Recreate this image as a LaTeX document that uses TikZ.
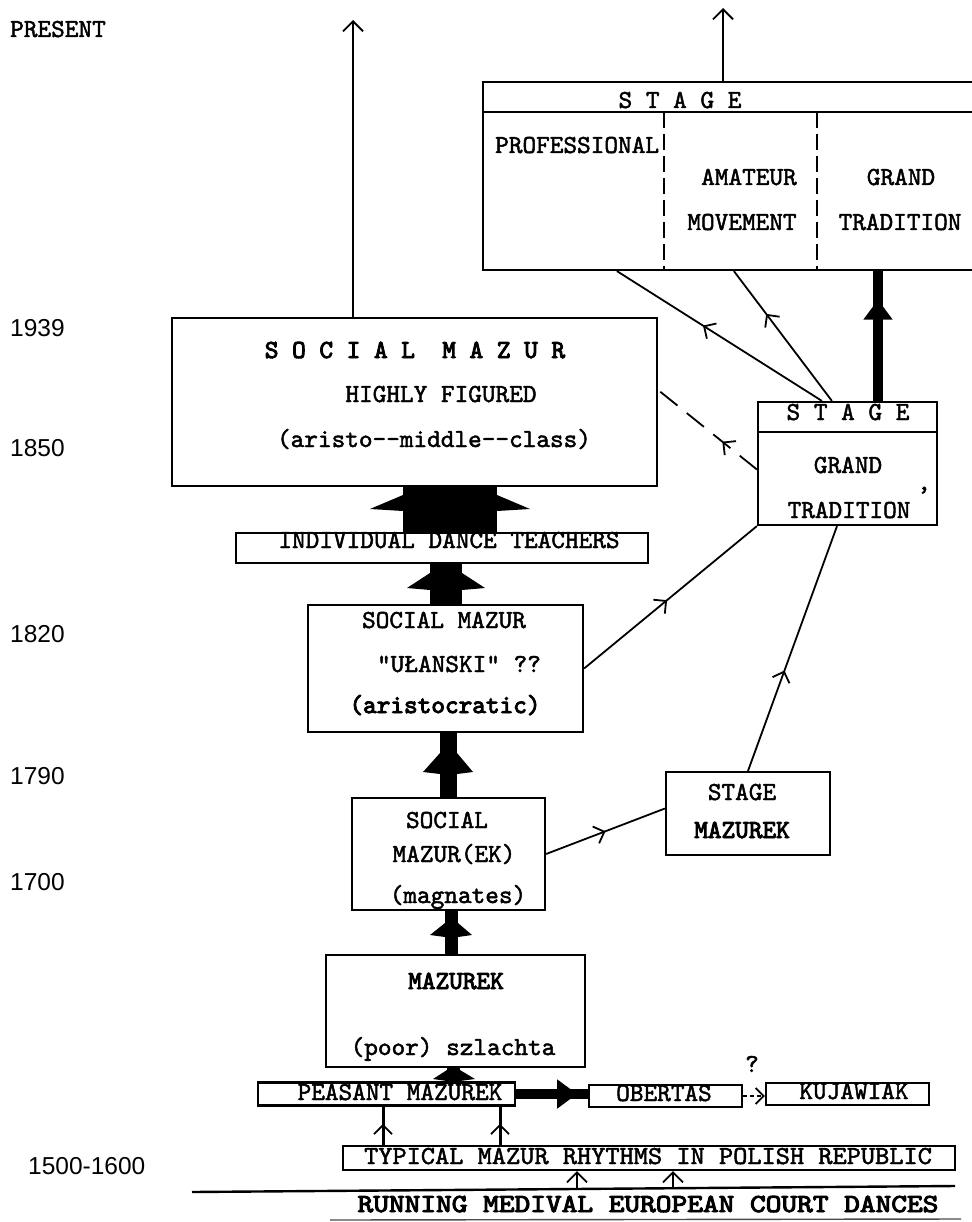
\documentclass[tikz,border=0pt]{standalone}
\usepackage{fontspec}
\newfontfamily\tw{lmmono10-regular}[Extension=.otf,FakeBold=1.8]
\newfontfamily\twb{lmmono10-regular}[Extension=.otf,FakeBold=3.6]
\newfontfamily\yr{Liberation Sans}
\usetikzlibrary{arrows.meta,decorations.markings,calc}
\tikzset{
 box/.style={draw, line width=2.2pt, inner sep=0pt, rectangle},
 tt/.style={font=\tw\fontsize{26}{30}\selectfont, anchor=base, inner sep=0pt},
 ttb/.style={font=\twb\fontsize{26}{30}\selectfont, anchor=base, inner sep=0pt},
 yrs/.style={font=\yr\fontsize{24.5}{28}\selectfont, anchor=base west, inner sep=0pt},
 thinline/.style={line width=1.8pt},
 uparr/.style={thinline, -{Straight Barb[length=10pt,width=20pt,line width=1.8pt]}},
 midarr/.style={thinline, postaction={decorate}, decoration={markings, mark=at position #1 with {\arrow{Straight Barb[length=9pt,width=18pt,line width=1.8pt]}}}},
 thickmid/.style={line width=10pt, postaction={decorate}, decoration={markings, mark=at position #1 with {\arrow{Triangle[length=20pt,width=28pt]}}}},
 divider/.style={line width=2pt, dash pattern=on 16pt off 6pt},
}
\newcommand\blockup[8]{%
 \fill (#1.north -| #3,0) rectangle (#2.south -| #4,0);
 \fill (#3,#7) -- (#5,#8) -- (#3,#8+2) -- cycle;
 \fill (#4,#7) -- (#6,#8) -- (#4,#8+2) -- cycle;
}
\begin{document}
\begin{tikzpicture}[x=1pt,y=-1pt]
\useasboundingbox (0,0) rectangle (971,1222);
\fill[white] (0,0) rectangle (971,1222);
% ---------- boxes
\node[box, minimum width=492pt, minimum height=188pt] (st) at (729,176) {};
\node[box, minimum width=179pt, minimum height=123pt] (gt) at (847.5,463.5) {};
\node[box, minimum width=485pt, minimum height=168pt] (sm) at (414.5,402) {};
\node[box, minimum width=412pt, minimum height=30pt] (idt) at (442,548) {};
\node[box, minimum width=275pt, minimum height=127pt] (ul) at (445.5,668.5) {};
\node[box, minimum width=193pt, minimum height=112pt] (ek) at (448.5,854) {};
\node[box, minimum width=164pt, minimum height=83pt] (smk) at (748,813.5) {};
\node[box, minimum width=259pt, minimum height=112pt] (mz) at (455.5,1011) {};
\node[box, minimum width=257pt, minimum height=23pt] (pm) at (386.5,1094) {};
\node[box, minimum width=153pt, minimum height=22pt] (ob) at (665.5,1096) {};
\node[box, minimum width=163pt, minimum height=22pt] (kj) at (847.5,1094) {};
\node[box, minimum width=612pt, minimum height=24pt] (ty) at (649,1158) {};
% header rows and dividers
\draw[line width=2.2pt] ([yshift=-31pt]st.north west) -- ([yshift=-31pt]st.north east);
\draw[line width=2.2pt] ([yshift=-31pt]gt.north west) -- ([yshift=-31pt]gt.north east);
\draw[divider] ([xshift=182pt,yshift=-31pt]st.north west) -- ([xshift=182pt]st.south west);
\draw[divider] ([xshift=335pt,yshift=-31pt]st.north west) -- ([xshift=335pt]st.south west);
% ---------- texts
\node[tt, anchor=base west] at (10,37) {PRESENT};
\node[tt] at (680,108) {S~T~A~G~E};
\node[tt, anchor=base west] at (495,153) {PROFESSIONAL};
\node[tt] at (749,185) {AMATEUR};
\node[tt] at (742,230) {MOVEMENT};
\node[tt] at (901,185) {GRAND};
\node[tt] at (900,230) {TRADITION};
\node[ttb] at (415,358) {S~O~C~I~A~L~~M~A~Z~U~R};
\node[tt] at (441,402) {HIGHLY FIGURED};
\node[tt] at (434,447) {(aristo-{}-middle-{}-class)};
\node[tt] at (449,548) {INDIVIDUAL DANCE TEACHERS};
\node[tt] at (444,628) {SOCIAL MAZUR};
\node[tt] at (459,672) {"UŁANSKI" ??};
\node[ttb] at (445,713) {(aristocratic)};
\node[tt] at (447,828) {SOCIAL};
\node[tt] at (454,862) {MAZUR(EK)};
\node[tt] at (458,903) {(magnates)};
\node[ttb] at (456,989) {MAZUREK};
\node[tt] at (453,1055) {(poor) szlachta};
\node[tt] at (400,1100) {PEASANT MAZUREK};
\node[tt] at (664,1101) {OBERTAS};
\node[tt] at (854,1099) {KUJAWIAK};
\node[tt] at (752,1072) {?};
\node[tt] at (648,1164) {\scalebox{1.04}[1]{TYPICAL MAZUR RHYTHMS IN POLISH REPUBLIC}};
\node[ttb] at (648,1212) {\scalebox{1.15}[1]{RUNNING MEDIVAL EUROPEAN COURT DANCES}};
\node[tt] at (848,420) {S~T~A~G~E};
\node[tt] at (848,473) {GRAND};
\node[tt] at (849,518) {TRADITION};
\node[tt] at (924,490) {,};
\node[tt] at (742,800) {STAGE};
\node[ttb] at (742,838) {MAZUREK};
% years
\node[yrs] at (10,336) {1939};
\node[yrs] at (10,456) {1850};
\node[yrs] at (10,642) {1820};
\node[yrs] at (10,784) {1790};
\node[yrs] at (10,890) {1700};
\node[yrs] at (28,1174) {1500-1600};
% ---------- thin connectors
\coordinate (presTop) at (353,20);
\coordinate (stTop) at (723,8);
\draw[uparr] (sm.north -| presTop) -- (presTop);
\draw[uparr] (st.north -| stTop) -- (stTop);
\draw[midarr=0.58] ([xshift=65pt]gt.north west) -- ([xshift=135pt]st.south west);
\draw[midarr=0.67] ([xshift=75pt]gt.north west) -- ([xshift=252pt]st.south west);
\draw[thickmid=0.78] (gt.north -| 878,0) -- (st.south -| 878,0);
\draw[midarr=0.35, dash pattern=on 22pt off 12pt] ([yshift=-6pt]gt.west) -- ([yshift=12pt]sm.east);
\draw[midarr=0.48] (ul.east) -- (gt.south west);
\draw[midarr=0.41] (smk.north) -- ([xshift=-10.5pt]gt.south);
\draw[midarr=0.5] (ek.east) -- ([yshift=5pt]smk.west);
% bottom
\coordinate (a1) at (383,0);
\coordinate (a2) at (500,0);
\draw[midarr=0.55, line width=3pt] (ty.north -| a1) -- (pm.south -| a1);
\draw[midarr=0.55, line width=3pt] (ty.north -| a2) -- (pm.south -| a2);
\coordinate (rlL) at (192,1192);
\coordinate (rlR) at (955,1186);
\draw[line width=2.4pt] (rlL) -- (rlR);
\draw[line width=1.4pt, black!70] (330,1220) -- (961,1219);
\coordinate (b1) at (577,1189);
\coordinate (b2) at (673,1188);
\draw[uparr] (b1) -- (ty.south -| b1);
\draw[uparr] (b2) -- (ty.south -| b2);
\draw[thickmid=0.85] (pm.east) -- (pm.east -| ob.west);
\draw[thinline, dash pattern=on 4pt off 3pt, -{Straight Barb[length=8pt,width=16pt,line width=1.8pt]}] (ob.east) -- (ob.east -| kj.west);
% ---------- block arrows
\blockup{idt}{sm}{403}{497}{370}{530}{495}{509}
\blockup{ul}{idt}{430}{462}{407}{485}{573}{588}
\blockup{ek}{ul}{440}{457}{423}{473}{753}{772}
\blockup{mz}{ek}{445}{458}{430}{472}{923}{935}
\blockup{pm}{mz}{447}{460}{433}{475}{1070}{1079}
\end{tikzpicture}
\end{document}
